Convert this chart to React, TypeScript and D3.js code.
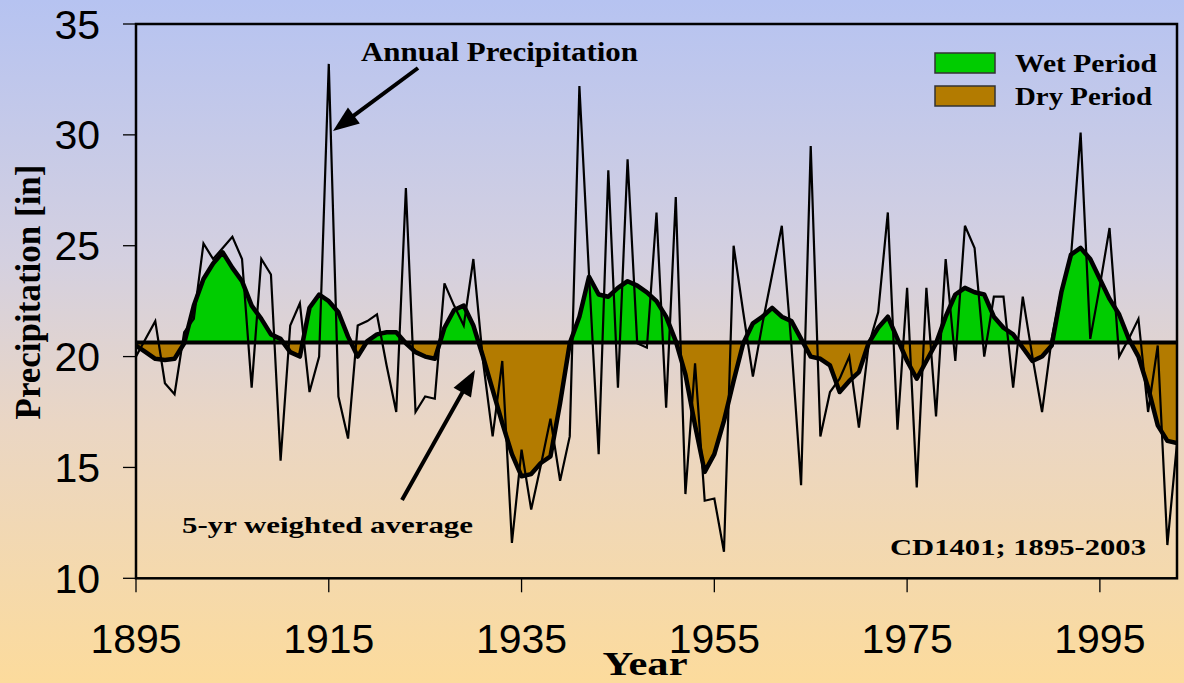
import React from "react";
import * as d3 from "d3";

// ---- data ----
const START_YEAR = 1895;
const END_YEAR = 2003;

// Annual precipitation [in], 1895..2003
const annualPrecip = [
  20.0, 20.8, 21.6, 18.8, 18.3, 21.1, 21.7, 25.1, 24.4, 24.9,
  25.4, 24.4, 18.6, 24.4, 23.7, 15.3, 21.4, 22.4, 18.4, 20.0,
  33.2, 18.2, 16.3, 21.4, 21.6, 21.9, 19.6, 17.5, 27.6, 17.5,
  18.2, 18.1, 23.3, 22.3, 21.4, 24.4, 19.8, 16.4, 19.8, 11.6,
  15.8, 13.1, 15.1, 17.2, 14.4, 16.4, 32.2, 23.7, 15.6, 28.4,
  18.6, 28.9, 20.6, 20.4, 26.5, 17.7, 27.2, 13.8, 19.7, 13.5,
  13.6, 11.2, 25.0, 22.0, 19.1, 21.5, 23.7, 25.9, 20.5, 14.2,
  29.5, 16.4, 18.4, 19.0, 20.0, 16.8, 20.5, 22.0, 26.5, 16.7,
  23.1, 14.1, 23.1, 17.3, 24.4, 19.8, 25.9, 24.9, 20.0, 22.7,
  22.7, 18.6, 22.7, 20.0, 17.5, 20.8, 23.0, 24.5, 30.1, 20.8,
  23.2, 25.8, 20.0, 20.8, 21.7, 17.5, 20.5, 11.5, 16.1,
];

// 5-yr weighted average [in], 1895..2003
const weightedAvg = [
  20.5, 20.2, 19.9, 19.85, 19.9, 20.6, 22.3, 23.5, 24.2, 24.7,
  24.0, 23.4, 22.3, 21.7, 21.0, 20.8, 20.2, 20.0, 22.2, 22.8,
  22.5, 22.0, 20.9, 20.0, 20.7, 21.0, 21.1, 21.1, 20.6, 20.2,
  20.0, 19.9, 21.3, 22.1, 22.3, 21.4, 20.0, 18.5, 17.0, 15.6,
  14.6, 14.7, 15.2, 15.5, 17.9, 20.6, 21.8, 23.6, 22.8, 22.7,
  23.1, 23.4, 23.2, 22.9, 22.5, 21.8, 20.7, 19.2, 16.9, 14.8,
  15.6, 17.1, 18.9, 20.6, 21.5, 21.8, 22.2, 21.8, 21.6, 20.8,
  20.0, 19.9, 19.6, 18.4, 18.9, 19.3, 20.6, 21.3, 21.8, 20.8,
  19.8, 19.0, 19.8, 20.6, 21.8, 22.8, 23.1, 22.9, 22.8, 21.8,
  21.3, 21.0, 20.4, 19.8, 20.0, 20.5, 22.9, 24.6, 24.9, 24.4,
  23.5, 22.6, 21.9, 20.8, 20.0, 18.6, 16.9, 16.2, 16.1,
];

const longTermMean = 20.64;
const yTicks = [10, 15, 20, 25, 30, 35];
const xTicks = [1895, 1915, 1935, 1955, 1975, 1995];
const legendItems = [
  { label: "Wet Period", color: "#00CC00" },
  { label: "Dry Period", color: "#B37B00" },
];

function Arrow({ x1, y1, x2, y2 }: { x1: number; y1: number; x2: number; y2: number }) {
  const dx = x2 - x1;
  const dy = y2 - y1;
  const len = Math.hypot(dx, dy);
  const ux = dx / len;
  const uy = dy / len;
  const head = 26;
  const half = 10;
  const bx = x2 - ux * head;
  const by = y2 - uy * head;
  const px = -uy;
  const py = ux;
  const pts = [
    [x2, y2],
    [bx + px * half, by + py * half],
    [bx - px * half, by - py * half],
  ]
    .map((p) => p.join(","))
    .join(" ");
  return (
    <g>
      <line x1={x1} y1={y1} x2={bx + ux * 4} y2={by + uy * 4} stroke="#000" strokeWidth={4} />
      <polygon points={pts} fill="#000" />
    </g>
  );
}

export default function App() {
  const W = 1184;
  const H = 683;
  const left = 136;
  const right = 1177;
  const top = 24;
  const bottom = 578.3;

  const x = d3.scaleLinear().domain([START_YEAR, END_YEAR]).range([left, right]);
  const y = d3.scaleLinear().domain([10, 35]).range([bottom, top]);
  const yr = (i: number) => START_YEAR + i;

  const annualLine = d3
    .line<number>()
    .x((_, i) => x(yr(i)))
    .y((d) => y(d))(annualPrecip) as string;

  const avgLine = d3
    .line<number>()
    .x((_, i) => x(yr(i)))
    .y((d) => y(d))(weightedAvg) as string;

  const avgArea = d3
    .area<number>()
    .x((_, i) => x(yr(i)))
    .y0(y(longTermMean))
    .y1((d) => y(d))(weightedAvg) as string;

  const meanY = y(longTermMean);
  const serif = "'Liberation Serif', 'Times New Roman', serif";
  const sans = "'Liberation Sans', Arial, sans-serif";

  return (
    <div style={{ position: "fixed", left: 0, top: 0, width: W, height: H }}>
      <svg width={W} height={H} viewBox={`0 0 ${W} ${H}`} style={{ display: "block" }}>
        <defs>
          <linearGradient id="bg" x1="0" y1="0" x2="0" y2="1">
            <stop offset="0%" stopColor="#B6C3F1" />
            <stop offset="38%" stopColor="#D4D0E0" />
            <stop offset="62%" stopColor="#EAD6C4" />
            <stop offset="100%" stopColor="#FCDB9C" />
          </linearGradient>
          <clipPath id="above">
            <rect x={left} y={top} width={right - left} height={meanY - top} />
          </clipPath>
          <clipPath id="below">
            <rect x={left} y={meanY} width={right - left} height={bottom - meanY} />
          </clipPath>
          <clipPath id="plot">
            <rect x={left} y={top} width={right - left} height={bottom - top} />
          </clipPath>
        </defs>

        <rect x={0} y={0} width={W} height={H} fill="url(#bg)" />

        {/* wet / dry fills */}
        <path d={avgArea} fill={legendItems[0].color} clipPath="url(#above)" />
        <path d={avgArea} fill={legendItems[1].color} clipPath="url(#below)" />

        {/* annual precipitation and weighted average */}
        <g clipPath="url(#plot)">
          <path d={annualLine} fill="none" stroke="#000" strokeWidth={2.2} />
          <path d={avgLine} fill="none" stroke="#000" strokeWidth={4.5} strokeLinejoin="round" />
        </g>

        {/* long-term mean */}
        <line x1={left} x2={right} y1={meanY} y2={meanY} stroke="#000" strokeWidth={4} />

        {/* frame */}
        <rect x={left} y={top} width={right - left} height={bottom - top} fill="none" stroke="#000" strokeWidth={2.5} />

        {/* y axis */}
        {yTicks.map((t) => (
          <g key={"y" + t}>
            <line x1={left - 13} x2={left} y1={y(t)} y2={y(t)} stroke="#000" strokeWidth={1.3} />
            <text x={100} y={y(t) + 14.5} textAnchor="end" fontFamily={sans} fontSize={41} fill="#000">
              {t}
            </text>
          </g>
        ))}

        {/* x axis */}
        {xTicks.map((t) => (
          <g key={"x" + t}>
            <line x1={x(t)} x2={x(t)} y1={bottom} y2={bottom + 14} stroke="#000" strokeWidth={1.3} />
            <text x={x(t)} y={653} textAnchor="middle" fontFamily={sans} fontSize={41} fill="#000">
              {t}
            </text>
          </g>
        ))}

        {/* axis titles */}
        <text
          x={645}
          y={675}
          textAnchor="middle"
          fontFamily={serif}
          fontWeight="bold"
          fontSize={33}
          textLength={85}
          lengthAdjust="spacingAndGlyphs"
        >
          Year
        </text>
        <text
          transform="translate(40,292) rotate(-90)"
          textAnchor="middle"
          fontFamily={serif}
          fontWeight="bold"
          fontSize={36}
          textLength={255}
          lengthAdjust="spacingAndGlyphs"
        >
          Precipitation [in]
        </text>

        {/* legend */}
        {legendItems.map((it, i) => (
          <g key={it.label}>
            <rect x={935} y={53 + i * 33} width={60} height={20} fill={it.color} stroke="#333" strokeWidth={1.5} />
            <text
              x={1015}
              y={71.5 + i * 33.5}
              fontFamily={serif}
              fontWeight="bold"
              fontSize={25}
              textLength={i === 0 ? 142 : 137}
              lengthAdjust="spacingAndGlyphs"
            >
              {it.label}
            </text>
          </g>
        ))}

        {/* annotations */}
        <text x={361} y={61} fontFamily={serif} fontWeight="bold" fontSize={27} textLength={277} lengthAdjust="spacingAndGlyphs">
          Annual Precipitation
        </text>
        <Arrow x1={418} y1={68} x2={333} y2={131} />

        <text x={182} y={533} fontFamily={serif} fontWeight="bold" fontSize={24} textLength={291} lengthAdjust="spacingAndGlyphs">
          5-yr weighted average
        </text>
        <Arrow x1={402} y1={500} x2={475} y2={370} />

        <text x={890} y={555} fontFamily={serif} fontWeight="bold" fontSize={23} textLength={256} lengthAdjust="spacingAndGlyphs">
          CD1401; 1895-2003
        </text>
      </svg>
    </div>
  );
}
